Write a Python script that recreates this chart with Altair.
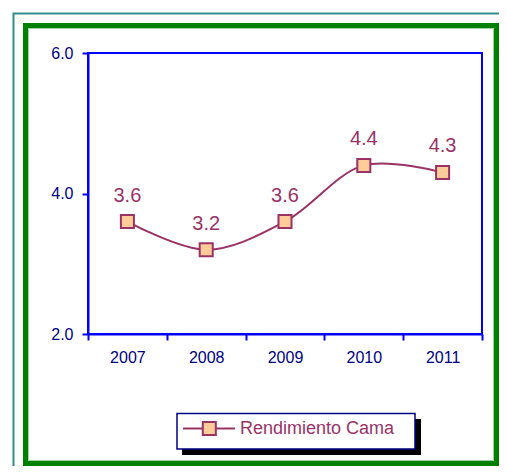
import altair as alt
import pandas as pd

# ---- data ----
years = [2007, 2008, 2009, 2010, 2011]
values = [3.6, 3.2, 3.6, 4.4, 4.3]
series_name = "Rendimiento Cama"
y_ticks = [2.0, 4.0, 6.0]
x_edges = [2006.5, 2007.5, 2008.5, 2009.5, 2010.5, 2011.5]

df = pd.DataFrame({"year": years, "value": values, "serie": [series_name] * len(years)})

LINE = "#993366"
FILL = "#FFCC99"
BLUE = "#0000FF"
NAVY = "#000080"
FONT = "Liberation Sans"

W, H = 394, 281

x_enc = alt.X(
    "year:Q",
    scale=alt.Scale(domain=[x_edges[0], x_edges[-1]], nice=False, zero=False),
    axis=alt.Axis(
        values=x_edges,
        labelExpr="datum.value < 2011 ? format(datum.value + 0.5, 'd') : ''",
        labelOffset=39.4,
        labelOverlap=False,
        labelBound=False,
        labelFlush=False,
        title=None,
        tickSize=6,
        labelPadding=9,
        labelFontSize=16,
        labelColor=NAVY,
        labelFont=FONT,
        domainColor=BLUE,
        tickColor=BLUE,
        domainWidth=2,
        tickWidth=2,
        grid=False,
    ),
)
y_enc = alt.Y(
    "value:Q",
    scale=alt.Scale(domain=[2, 6], nice=False, zero=False),
    axis=alt.Axis(
        values=y_ticks,
        format=".1f",
        title=None,
        tickSize=6,
        labelPadding=9,
        labelFontSize=16,
        labelColor=NAVY,
        labelFont=FONT,
        domainColor=BLUE,
        tickColor=BLUE,
        domainWidth=2,
        tickWidth=2,
        grid=False,
    ),
)

base = alt.Chart(df)

line = base.mark_line(color=LINE, strokeWidth=2, interpolate="catmull-rom").encode(x=x_enc, y=y_enc)
points = base.mark_point(
    shape="square", size=170, filled=True, fill=FILL, stroke=LINE, strokeWidth=2, opacity=1
).encode(x=x_enc, y=y_enc)
labels = base.mark_text(
    color=LINE, font=FONT, fontSize=20, dy=-20, baseline="alphabetic", align="center"
).encode(x=x_enc, y=y_enc, text=alt.Text("value:Q", format=".1f"))

one = alt.Data(values=[{}])

# decorative frames (relative to plot origin)
teal = alt.Chart(one).mark_rect(fillOpacity=0, stroke="#2E8B8B", strokeWidth=2).encode(
    x=alt.value(-74.5), x2=alt.value(440), y=alt.value(-39.5), y2=alt.value(450)
)
green = alt.Chart(one).mark_rect(fillOpacity=0, stroke="#008000", strokeWidth=5).encode(
    x=alt.value(-62.5), x2=alt.value(408.5), y=alt.value(-27.5), y2=alt.value(410.5)
)
green_inner = alt.Chart(one).mark_rect(fillOpacity=0, stroke="#9FD09F", strokeWidth=1).encode(
    x=alt.value(-59.5), x2=alt.value(405.5), y=alt.value(-24.5), y2=alt.value(407.5)
)

# legend
leg_shadow = alt.Chart(one).mark_rect(fill="#000000").encode(
    x=alt.value(94), x2=alt.value(333), y=alt.value(366), y2=alt.value(402)
)
leg_box = alt.Chart(one).mark_rect(fill="#FFFFFF", stroke=NAVY, strokeWidth=1.5).encode(
    x=alt.value(89), x2=alt.value(327), y=alt.value(360.5), y2=alt.value(396)
)
leg_line = alt.Chart(one).mark_rule(color=LINE, strokeWidth=2).encode(
    x=alt.value(95), x2=alt.value(147), y=alt.value(375.5)
)
leg_pt = alt.Chart(one).mark_point(
    shape="square", size=170, filled=True, fill=FILL, stroke=LINE, strokeWidth=2, opacity=1
).encode(x=alt.value(121.3), y=alt.value(375.5))
leg_text = alt.Chart(alt.Data(values=[{"t": series_name}])).mark_text(
    color=LINE, font=FONT, fontSize=18, align="left", baseline="middle"
).encode(x=alt.value(152), y=alt.value(376), text="t:N")

chart = alt.layer(
    teal, green, green_inner, leg_shadow, leg_box, leg_line, leg_pt, leg_text,
    line, points, labels,
).properties(
    width=W,
    height=H,
    autosize=alt.AutoSizeParams(type="none"),
    padding={"left": 80, "top": 45, "right": 17, "bottom": 132},
    background="#FFFFFF",
).configure_view(
    stroke=BLUE, strokeWidth=2
)

chart.save("out.html", embed_options={"renderer": "svg", "actions": False})
